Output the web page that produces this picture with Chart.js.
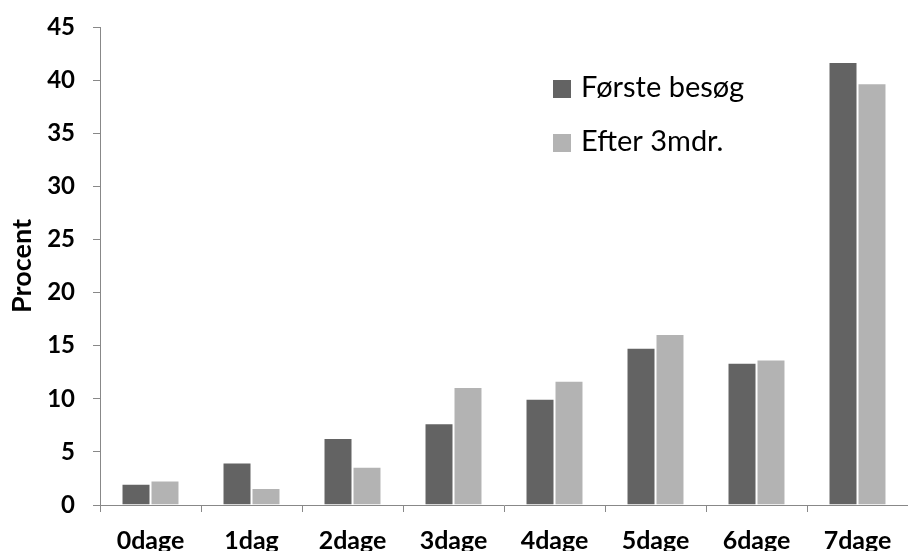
<!DOCTYPE html>
<html>
<head>
<meta charset="utf-8">
<script src="https://cdn.jsdelivr.net/npm/chart.js@4/dist/chart.umd.min.js"></script>
<style>
  html, body { margin: 0; padding: 0; background: #fff; }
  #wrap { width: 908px; height: 551px; position: relative; }
</style>
</head>
<body>
<div id="wrap"><canvas id="c" width="908" height="551"></canvas></div>
<script>
// Antal dage med fysisk aktivitet pr. uge (procent af deltagere)
const categories = ['0dage', '1dag', '2dage', '3dage', '4dage', '5dage', '6dage', '7dage'];
const seriesNames = ['Første besøg', 'Efter 3mdr.'];
const forsteBesog = [2.0, 4.0, 6.3, 7.7, 10.0, 14.8, 13.4, 41.7];
const efter3mdr = [2.3, 1.6, 3.6, 11.1, 11.7, 16.1, 13.7, 39.7];
const yTicks = [0, 5, 10, 15, 20, 25, 30, 35, 40, 45];

const colors = ['#636363', '#b3b3b3'];
const barEdge = 'rgba(255,255,255,0.45)';
const axisColor = '#888888';

// Legend drawn inside the plot area, stacked vertically
const insideLegend = {
  id: 'insideLegend',
  afterDraw(chart) {
    const ctx = chart.ctx;
    ctx.save();
    ctx.font = '29px Lato';
    ctx.textBaseline = 'middle';
    ctx.textAlign = 'left';
    chart.data.datasets.forEach((ds, i) => {
      const y = 80 + i * 54;
      ctx.fillStyle = ds.backgroundColor;
      ctx.fillRect(553, y, 18, 18);
      ctx.fillStyle = '#000';
      ctx.fillText(ds.label, 581, y + 8);
    });
    ctx.restore();
  }
};

new Chart(document.getElementById('c'), {
  type: 'bar',
  data: {
    labels: categories,
    datasets: [
      { label: seriesNames[0], data: forsteBesog, backgroundColor: colors[0], borderColor: barEdge },
      { label: seriesNames[1], data: efter3mdr, backgroundColor: colors[1], borderColor: barEdge }
    ]
  },
  options: {
    responsive: false,
    animation: false,
    devicePixelRatio: 1,
    layout: { padding: { top: 0, left: 0, right: 0, bottom: 0 } },
    datasets: {
      bar: { categoryPercentage: 0.574, barPercentage: 1.0, borderWidth: 1, borderSkipped: 'bottom' }
    },
    plugins: {
      legend: { display: false },
      tooltip: { enabled: false }
    },
    scales: {
      x: {
        grid: { display: true, drawOnChartArea: false, drawTicks: true, tickLength: 7, color: axisColor, offset: true },
        border: { display: true, color: axisColor, width: 1 },
        ticks: { color: '#000', font: { family: 'Lato', weight: 'bold', size: 25 }, padding: 14, maxRotation: 0, autoSkip: false },
        afterFit(scale) { scale.height = 46; }
      },
      y: {
        min: 0,
        max: 45,
        afterBuildTicks(scale) { scale.ticks = yTicks.map(v => ({ value: v })); },
        grid: { display: true, drawOnChartArea: false, drawTicks: true, tickLength: 7, color: axisColor },
        border: { display: true, color: axisColor, width: 1 },
        ticks: { color: '#000', font: { family: 'Lato', weight: 'bold', size: 24, lineHeight: 0.75 }, padding: 18 },
        title: { display: true, text: 'Procent', color: '#000', font: { family: 'Lato', weight: 'bold', size: 27 }, padding: { top: 6, bottom: 0 } },
        afterFit(scale) { scale.width = 100; }
      }
    }
  },
  plugins: [insideLegend]
});
</script>
</body>
</html>
